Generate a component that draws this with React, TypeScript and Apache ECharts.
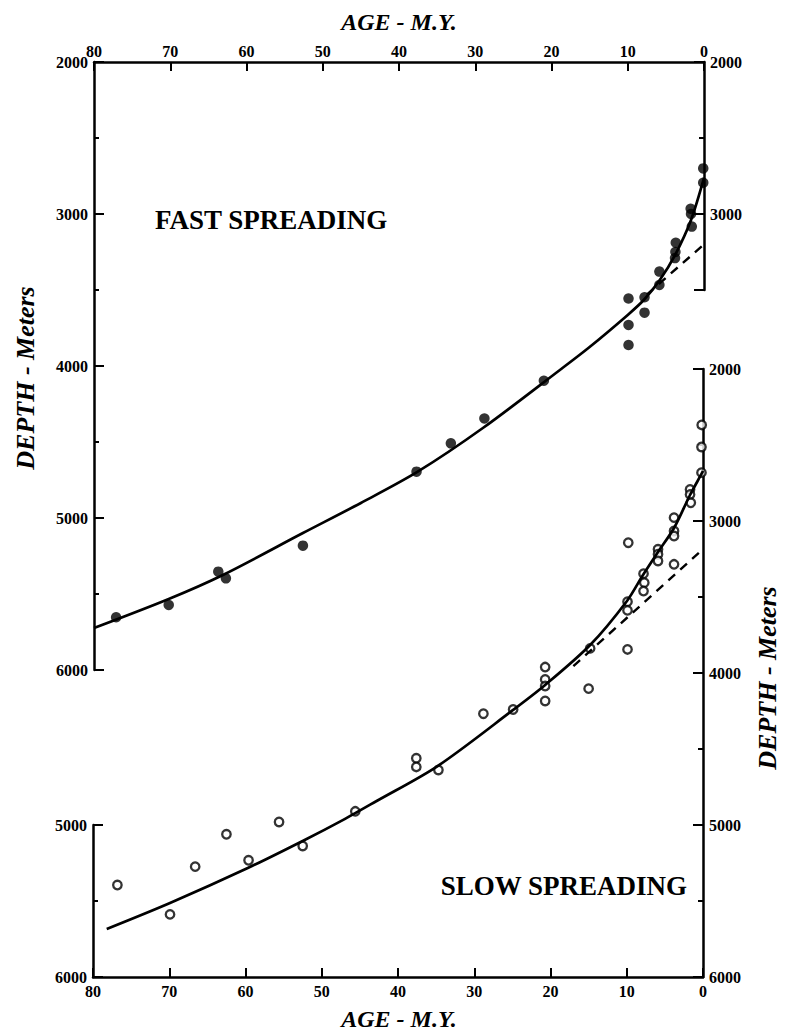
import React, { useEffect, useRef } from 'react';
import * as echarts from 'echarts';

// ---- Data (age in M.Y., depth in meters) ----
const ageTicks = [80, 70, 60, 50, 40, 30, 20, 10, 0];

const fastPoints: [number, number][] = [
  [77.1, 5653], [70.2, 5572], [63.7, 5353], [62.7, 5397], [52.6, 5182],
  [37.7, 4695], [33.2, 4509], [28.8, 4345], [21.0, 4097],
  [9.9, 3556], [9.9, 3730], [9.9, 3862], [7.8, 3548], [7.8, 3649],
  [5.85, 3379], [5.85, 3467], [3.8, 3290], [3.7, 3189], [3.75, 3250],
  [1.75, 2965], [1.7, 3000], [1.6, 3083], [0.1, 2700], [0.1, 2794],
];

const fastCurve: [number, number][] = [
  [80, 5724], [70.2, 5533], [63.1, 5375], [52.6, 5099], [45, 4901],
  [37.6, 4697], [29, 4408], [18.9, 4026], [15, 3875], [10, 3664],
  [7.9, 3566], [5.8, 3434], [3.8, 3270], [1.7, 3039], [0, 2763],
];

const fastDashed: [number, number][] = [
  [7.5, 3530], [0, 3200],
];

const slowPoints: [number, number][] = [
  [0.17, 2368], [0.2, 2513], [0.2, 2682], [1.7, 2792], [1.7, 2826], [1.6, 2880],
  [3.8, 2978], [3.8, 3066], [3.8, 3099], [3.8, 3285], [5.9, 3186], [5.9, 3219],
  [5.9, 3263], [7.8, 3347], [7.7, 3406], [7.8, 3461], [9.8, 3143], [9.9, 3531],
  [9.9, 3588], [9.9, 3845], [14.8, 3838], [15.0, 4103], [20.7, 3961], [20.7, 4042],
  [20.7, 4086], [20.7, 4184], [24.9, 4240], [28.8, 4268], [34.7, 4638], [37.6, 4561],
  [37.6, 4618], [45.6, 4910], [52.5, 5138], [55.6, 4980], [59.6, 5232], [62.5, 5061],
  [66.6, 5274], [69.9, 5588], [76.8, 5395],
];

const slowCurve: [number, number][] = [
  [78.2, 5684], [69.9, 5513], [59.7, 5283], [52.5, 5105], [47.0, 4961],
  [42.8, 4842], [34.8, 4612], [24.9, 4243], [20.7, 4079], [14.8, 3816],
  [9.97, 3526], [7.87, 3355], [5.9, 3204], [3.8, 3046], [1.7, 2829],
  [0.13, 2684], [0, 2670],
];

const slowDashed: [number, number][] = [
  [17, 3955], [0, 3185],
];

const depthTicksLabelHidden = [2500, 3500, 4500, 5500];

const FONT = "'Liberation Serif', 'Times New Roman', serif";

export default function App() {
  const ref = useRef<HTMLDivElement>(null);

  useEffect(() => {
    if (!ref.current) return;
    const chart = echarts.init(ref.current, undefined, { renderer: 'svg' });

    const lineStyle = { color: '#000', width: 2.5 };
    const tickLine = { color: '#000', width: 2 };
    const label = {
      fontFamily: FONT,
      fontWeight: 'bold' as const,
      fontSize: 16,
      color: '#000',
    };

    const yAxisBase = (gridIndex: number, position: 'left' | 'right', min: number, max: number) => ({
      type: 'value' as const,
      gridIndex,
      position,
      min,
      max,
      interval: 1000,
      inverse: true,
      axisLine: { show: true, onZero: false, lineStyle },
      axisTick: { show: true, inside: true, length: 10, lineStyle: tickLine },
      minorTick: { show: true, splitNumber: 2, length: 5, lineStyle: tickLine },
      splitLine: { show: false },
      minorSplitLine: { show: false },
      axisLabel: {
        ...label,
        margin: 6,
        formatter: (v: number) => (depthTicksLabelHidden.includes(v) ? '' : String(v)),
      },
    });

    const xAxisBase = (gridIndex: number, position: 'top' | 'bottom', show = true) => ({
      type: 'value' as const,
      gridIndex,
      position,
      min: 0,
      max: 80,
      interval: 10,
      inverse: true,
      show,
      axisLine: { show, onZero: false, lineStyle },
      axisTick: { show, inside: true, length: 9, lineStyle: tickLine },
      splitLine: { show: false },
      axisLabel: { ...label, show, margin: position === 'top' ? 3 : 6, formatter: (v: number) => (ageTicks.includes(v) ? String(v) : '') },
    });

    const option: any = {
      animation: false,
      backgroundColor: '#fff',
      grid: [
        { left: 94, top: 62, width: 610, height: 608 },
        { left: 94, top: 62, width: 610, height: 228 },
        { left: 93, top: 369, width: 610, height: 608 },
        { left: 93, top: 825, width: 610, height: 152 },
      ],
      xAxis: [
        xAxisBase(0, 'top'),
        xAxisBase(1, 'top', false),
        xAxisBase(2, 'bottom'),
        xAxisBase(3, 'bottom', false),
      ],
      yAxis: [
        yAxisBase(0, 'left', 2000, 6000),
        yAxisBase(1, 'right', 2000, 3500),
        yAxisBase(2, 'right', 2000, 6000),
        yAxisBase(3, 'left', 5000, 6000),
      ],
      series: [
        {
          type: 'line', name: 'fast-curve', xAxisIndex: 0, yAxisIndex: 0,
          data: fastCurve, smooth: 0.3, showSymbol: false, symbol: 'none',
          lineStyle: { color: '#000', width: 2.7 }, z: 3,
        },
        {
          type: 'line', name: 'fast-dashed', xAxisIndex: 0, yAxisIndex: 0,
          data: fastDashed, showSymbol: false, symbol: 'none',
          lineStyle: { color: '#000', width: 2.4, type: [9, 7] }, z: 3,
        },
        {
          type: 'scatter', name: 'fast', xAxisIndex: 0, yAxisIndex: 0,
          data: fastPoints, symbol: 'circle', symbolSize: 10.5,
          itemStyle: { color: '#000' }, z: 4,
        },
        {
          type: 'scatter', name: 'slow', xAxisIndex: 2, yAxisIndex: 2,
          data: slowPoints, symbol: 'circle', symbolSize: 8.5,
          itemStyle: { color: '#fff', borderColor: '#000', borderWidth: 2.3 }, z: 2,
        },
        {
          type: 'line', name: 'slow-curve', xAxisIndex: 2, yAxisIndex: 2,
          data: slowCurve, smooth: 0.3, showSymbol: false, symbol: 'none',
          lineStyle: { color: '#000', width: 2.7 }, z: 3,
        },
        {
          type: 'line', name: 'slow-dashed', xAxisIndex: 2, yAxisIndex: 2,
          data: slowDashed, showSymbol: false, symbol: 'none',
          lineStyle: { color: '#000', width: 2.4, type: [9, 7] }, z: 3,
        },
      ],
      graphic: [
        {
          type: 'text', x: 399, y: 22,
          style: { text: 'AGE - M.Y.', font: `italic bold 24px ${FONT}`, fill: '#000', align: 'center', verticalAlign: 'middle' },
        },
        {
          type: 'text', x: 399, y: 1019,
          style: { text: 'AGE - M.Y.', font: `italic bold 24px ${FONT}`, fill: '#000', align: 'center', verticalAlign: 'middle' },
        },
        {
          type: 'text', x: 25, y: 378, rotation: Math.PI / 2,
          style: { text: 'DEPTH - Meters', font: `italic bold 26px ${FONT}`, fill: '#000', align: 'center', verticalAlign: 'middle' },
        },
        {
          type: 'text', x: 767, y: 678, rotation: Math.PI / 2,
          style: { text: 'DEPTH - Meters', font: `italic bold 26px ${FONT}`, fill: '#000', align: 'center', verticalAlign: 'middle' },
        },
        {
          type: 'text', x: 155, y: 220,
          style: { text: 'FAST SPREADING', font: `bold 27px ${FONT}`, fill: '#000', align: 'left', verticalAlign: 'middle' },
        },
        {
          type: 'text', x: 687, y: 886,
          style: { text: 'SLOW SPREADING', font: `bold 27px ${FONT}`, fill: '#000', align: 'right', verticalAlign: 'middle' },
        },
      ],
    };

    chart.setOption(option);
    return () => chart.dispose();
  }, []);

  return (
    <div
      ref={ref}
      style={{ position: 'absolute', left: 0, top: 0, width: 785, height: 1035, background: '#fff' }}
    />
  );
}
